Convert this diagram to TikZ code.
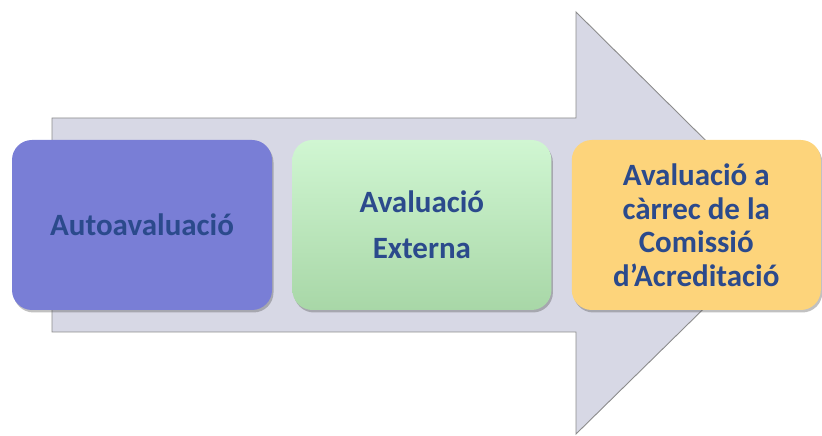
\documentclass[tikz,border=0pt]{standalone}
\usepackage{fontspec}
\setsansfont{Carlito}
\usetikzlibrary{positioning,shadows}
\definecolor{arrowfill}{HTML}{D7D8E5}
\definecolor{arrowline}{HTML}{8C8C8C}
\definecolor{stepblue}{HTML}{797ED6}
\definecolor{greentop}{HTML}{D0F6D2}
\definecolor{greenbot}{HTML}{A8D7A7}
\definecolor{stepgold}{HTML}{FDD47B}
\definecolor{labeltext}{HTML}{2B4A8C}
\tikzset{
    fase/.style={rectangle, rounded corners=20pt, minimum width=260pt,
                    minimum height=170pt, align=center, text=labeltext,
                    font=\sffamily\bfseries\fontsize{31}{33.5}\selectfont,
                    drop shadow={shadow xshift=1.5pt, shadow yshift=-2.5pt,
                                 opacity=0.35, fill=black!70}},
    fletxa/.style={fill=arrowfill, draw=arrowline, line width=0.9pt}}

\begin{document}
\begin{tikzpicture}[x=1pt, y=1pt, node distance=20pt]
    \useasboundingbox (0,0) rectangle (822,436);
    % big arrow behind the three phases
    \draw[fletxa] (52,318) -- (576,318) -- (576,424) -- (790,212)
        -- (576,2) -- (576,104) -- (52,104) -- cycle;

    \node[fase, fill=stepblue] at (142,211)
        (auto) {Autoavaluació};
    \node[fase, top color=greentop, bottom color=greenbot, minimum width=259pt,
        right=of auto]
        (externa) {Avaluació\\[12.5pt]Externa};
    \node[fase, fill=stepgold, minimum width=249pt, right=of externa]
        (comissio) {Avaluació a\\càrrec de la\\Comissió\\d’Acreditació};
\end{tikzpicture}
\end{document}
